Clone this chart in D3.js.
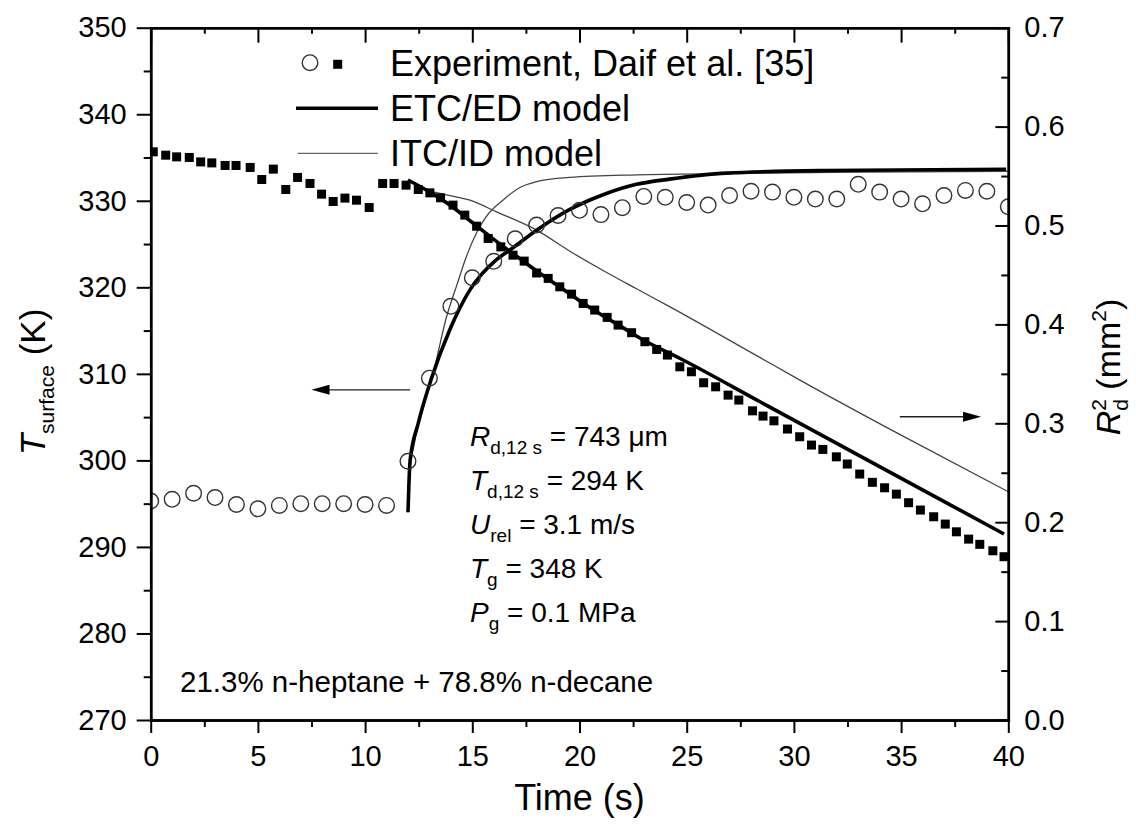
<!DOCTYPE html>
<html>
<head>
<meta charset="utf-8">
<script src="https://cdn.jsdelivr.net/npm/d3@7"></script>
<style>
  body { margin: 0; background: #fff; }
  text { font-family: "Liberation Sans", Arial, sans-serif; fill: #000; }
</style>
</head>
<body>
<div id="chart"></div>
<script>
// axis ticks
const timeTicks = [0, 5, 10, 15, 20, 25, 30, 35, 40];
const tempTicks = [270, 280, 290, 300, 310, 320, 330, 340, 350];
const r2Ticks = [0.0, 0.1, 0.2, 0.3, 0.4, 0.5, 0.6, 0.7];

// experiment, surface temperature (open circles, left axis)
const circleTime = [0, 1, 2, 3, 4, 5, 6, 7, 8, 9, 10, 11, 12, 13, 14, 15, 16, 17, 18, 19, 20,
  21, 22, 23, 24, 25, 26, 27, 28, 29, 30, 31, 32, 33, 34, 35, 36, 37, 38, 39, 40];
const circleTemp = [295.3, 295.5, 296.2, 295.7, 294.9, 294.4, 294.8, 295.0, 295.0, 295.0, 294.9,
  294.8, 299.9, 309.5, 317.8, 321.1, 323.0, 325.6, 327.2, 328.3, 328.9, 328.4, 329.2, 330.5,
  330.4, 329.8, 329.5, 330.6, 331.1, 331.0, 330.4, 330.2, 330.2, 331.9, 331.0, 330.2, 329.65,
  330.6, 331.2, 331.1, 329.3];

// experiment, squared radius (filled squares, right axis)
const squareTime = [0.12, 0.70, 1.21, 1.80, 2.33, 2.85, 3.47, 3.98, 4.64, 5.18, 5.72, 6.30, 6.85,
  7.43, 7.97, 8.51, 9.06, 9.60, 10.19, 10.82, 11.35, 11.91, 12.48, 13.02, 13.52, 14.10, 14.65,
  15.20, 15.74, 16.33, 16.90, 17.42, 18.00, 18.54, 19.08, 19.63, 20.17, 20.71, 21.29, 21.80,
  22.43, 23.05, 23.60, 24.10, 24.68, 25.22, 25.79, 26.35, 26.93, 27.43, 28.07, 28.56, 29.07,
  29.70, 30.27, 30.82, 31.35, 31.98, 32.49, 33.07, 33.66, 34.23, 34.78, 35.35, 35.90, 36.52,
  37.06, 37.58, 38.15, 38.67, 39.28, 39.80];
const squareR2 = [0.5745, 0.5711, 0.5694, 0.5688, 0.5643, 0.5633, 0.5607, 0.5607, 0.5587, 0.5465,
  0.557, 0.5364, 0.5486, 0.5425, 0.5317, 0.5243, 0.5277, 0.5256, 0.5182, 0.5425, 0.5425, 0.5408,
  0.5364, 0.533, 0.528, 0.5206, 0.5105, 0.4993, 0.4869, 0.4784, 0.470, 0.464, 0.452, 0.4465,
  0.438, 0.4306, 0.4212, 0.4145, 0.4071, 0.3993, 0.3916, 0.3825, 0.3747, 0.369, 0.3571, 0.3521,
  0.341, 0.3369, 0.3285, 0.3235, 0.3126, 0.3073, 0.3025, 0.2942, 0.2864, 0.278, 0.2736, 0.2661,
  0.2588, 0.2487, 0.2403, 0.2348, 0.2284, 0.2197, 0.2123, 0.2055, 0.1981, 0.1903, 0.1829,
  0.1776, 0.1711, 0.1651];

// ETC/ED model
const etcTempTime = [12, 12.04, 12.1, 12.48, 13.1, 13.95, 14.89, 16.13, 16.75, 18.0, 19.55, 21.1,
  22.66, 24.2, 26.85, 31.5, 39.9];
const etcTemp = [294, 297, 300, 304.3, 309.5, 315.1, 319.7, 323.2, 324.3, 326.6, 329.0, 330.7,
  331.9, 332.5, 333.2, 333.5, 333.65];
const etcR2Time = [12, 13, 14, 15, 16, 17, 18, 19, 20, 21, 22, 23, 24.83, 28.4, 32, 36, 39.8];
const etcR2 = [0.546, 0.534, 0.520, 0.503, 0.486, 0.470, 0.454, 0.439, 0.424, 0.410, 0.397,
  0.384, 0.364, 0.322, 0.2797, 0.2327, 0.1881];

// ITC/ID model
const itcTempTime = [12, 12.05, 12.3, 12.7, 13.15, 13.8, 14.27, 14.73, 15.2, 15.66, 16.44, 17.2,
  18.0, 19.55, 22.66, 27, 33, 40];
const itcTemp = [294, 298, 302, 306, 309.8, 316.6, 320.2, 323.6, 326.3, 328.2, 330.1, 331.5,
  332.2, 332.7, 333.0, 333.15, 333.3, 333.4];
const itcR2Time = [12, 12.5, 13.03, 13.8, 14.89, 16.13, 18.0, 19.55, 21.1, 22.66, 24.2, 28.41,
  30.28, 35, 40];
const itcR2 = [0.546, 0.540, 0.535, 0.531, 0.5256, 0.5138, 0.4953, 0.474, 0.4545, 0.436, 0.418,
  0.3666, 0.3437, 0.288, 0.2308];

const width = 1136, height = 827;
const plot = { left: 150.7, right: 1008.3, top: 27.7, bottom: 720 };

const svg = d3.select("#chart").append("svg")
  .attr("width", width).attr("height", height)
  .attr("viewBox", [0, 0, width, height]);

const x = d3.scaleLinear([0, 40], [plot.left, plot.right]);
const yT = d3.scaleLinear([270, 350], [plot.bottom, plot.top]);
const yR = d3.scaleLinear([0, 0.7], [plot.bottom, plot.top]);

const minorTime = d3.range(2.5, 40, 5);
const minorTemp = d3.range(275, 350, 10);
const minorR2 = d3.range(0.05, 0.7, 0.1);

svg.append("clipPath").attr("id", "clip")
  .append("rect")
  .attr("x", plot.left).attr("y", plot.top)
  .attr("width", plot.right - plot.left).attr("height", plot.bottom - plot.top);

const data = svg.append("g").attr("clip-path", "url(#clip)");

const lineT = (ts, vs) => d3.line().curve(d3.curveMonotoneX)
  .x((d, i) => x(ts[i])).y((d, i) => yT(vs[i]))(vs);
const lineR = (ts, vs) => d3.line().curve(d3.curveMonotoneX)
  .x((d, i) => x(ts[i])).y((d, i) => yR(vs[i]))(vs);

// model curves
data.append("path").attr("d", lineT(itcTempTime, itcTemp))
  .attr("fill", "none").attr("stroke", "#444").attr("stroke-width", 1.3);
data.append("path").attr("d", lineR(itcR2Time, itcR2))
  .attr("fill", "none").attr("stroke", "#444").attr("stroke-width", 1.3);
data.append("path").attr("d", lineT(etcTempTime, etcTemp))
  .attr("fill", "none").attr("stroke", "#000").attr("stroke-width", 3.6);
data.append("path").attr("d", lineR(etcR2Time, etcR2))
  .attr("fill", "none").attr("stroke", "#000").attr("stroke-width", 3.6);

// experiment points
data.selectAll("rect.sq")
  .data(squareTime)
  .join("rect")
  .attr("class", "sq")
  .attr("x", (d, i) => x(d) - 4.5)
  .attr("y", (d, i) => yR(squareR2[i]) - 4.5)
  .attr("width", 9).attr("height", 9)
  .attr("fill", "#000");

data.selectAll("circle.exp")
  .data(circleTime)
  .join("circle")
  .attr("class", "exp")
  .attr("cx", d => x(d))
  .attr("cy", (d, i) => yT(circleTemp[i]))
  .attr("r", 7.8)
  .attr("fill", "none").attr("stroke", "#333").attr("stroke-width", 1.4);

// axes
function styleAxis(g) {
  g.select(".domain").attr("stroke-width", 2.5).attr("stroke-linecap", "square");
  g.selectAll(".tick line").attr("stroke-width", 2);
  g.selectAll(".tick text").attr("font-size", 29)
    .attr("font-family", '"Liberation Sans", Arial, sans-serif');
}

svg.append("g").attr("transform", `translate(0,${plot.bottom})`)
  .call(d3.axisBottom(x).tickValues(timeTicks).tickSizeInner(13).tickSizeOuter(0).tickPadding(12))
  .call(styleAxis);
svg.append("g").attr("transform", `translate(0,${plot.bottom})`)
  .call(d3.axisBottom(x).tickValues(minorTime).tickSizeInner(7).tickSizeOuter(0).tickFormat(""))
  .call(styleAxis);
svg.append("g").attr("transform", `translate(0,${plot.top})`)
  .call(d3.axisTop(x).tickValues(timeTicks).tickSizeInner(-15).tickSizeOuter(0).tickFormat(""))
  .call(styleAxis);
svg.append("g").attr("transform", `translate(0,${plot.top})`)
  .call(d3.axisTop(x).tickValues(minorTime).tickSizeInner(-6).tickSizeOuter(0).tickFormat(""))
  .call(styleAxis);
svg.append("g").attr("transform", `translate(${plot.left},0)`)
  .call(d3.axisLeft(yT).tickValues(tempTicks).tickSizeInner(14).tickSizeOuter(0).tickPadding(10))
  .call(styleAxis);
svg.append("g").attr("transform", `translate(${plot.left},0)`)
  .call(d3.axisLeft(yT).tickValues(minorTemp).tickSizeInner(7).tickSizeOuter(0).tickFormat(""))
  .call(styleAxis);
svg.append("g").attr("transform", `translate(${plot.right},0)`)
  .call(d3.axisRight(yR).tickValues(r2Ticks).tickSizeInner(-13).tickSizeOuter(0).tickPadding(16)
    .tickFormat(d3.format(".1f")))
  .call(styleAxis);
svg.append("g").attr("transform", `translate(${plot.right},0)`)
  .call(d3.axisRight(yR).tickValues(minorR2).tickSizeInner(-7).tickSizeOuter(0).tickFormat(""))
  .call(styleAxis);

// axis titles
svg.append("text")
  .attr("x", (plot.left + plot.right) / 2).attr("y", 810)
  .attr("text-anchor", "middle").attr("font-size", 36)
  .text("Time (s)");

const leftTitle = svg.append("text")
  .attr("transform", "translate(45,382) rotate(-90)")
  .attr("text-anchor", "middle").attr("font-size", 35);
leftTitle.append("tspan").attr("font-style", "italic").text("T");
leftTitle.append("tspan").attr("font-size", 21).attr("dy", 9).text("surface");
leftTitle.append("tspan").attr("dy", -9).text(" (K)");

const rightTitle = svg.append("text")
  .attr("transform", "translate(1120,367) rotate(-90)")
  .attr("text-anchor", "middle").attr("font-size", 34);
rightTitle.append("tspan").attr("font-style", "italic").text("R");
rightTitle.append("tspan").attr("font-size", 21).attr("dy", -14).text("2");
rightTitle.append("tspan").attr("font-size", 21).attr("dx", -11.7).attr("dy", 22).text("d");
rightTitle.append("tspan").attr("dy", -8).text(" (mm");
rightTitle.append("tspan").attr("font-size", 21).attr("dy", -14).text("2");
rightTitle.append("tspan").attr("dy", 14).text(")");

// legend
const legend = svg.append("g");
legend.append("circle").attr("cx", 310).attr("cy", 62.7).attr("r", 7.8)
  .attr("fill", "none").attr("stroke", "#333").attr("stroke-width", 1.4);
legend.append("rect").attr("x", 333.2).attr("y", 59.8).attr("width", 9).attr("height", 9)
  .attr("fill", "#000");
legend.append("text").attr("x", 390).attr("y", 76).attr("font-size", 36)
  .text("Experiment, Daif et al. [35]");
legend.append("line").attr("x1", 296).attr("x2", 378).attr("y1", 108.3).attr("y2", 108.3)
  .attr("stroke", "#000").attr("stroke-width", 3.6);
legend.append("text").attr("x", 390).attr("y", 120.5).attr("font-size", 36)
  .text("ETC/ED model");
legend.append("line").attr("x1", 297.7).attr("x2", 378).attr("y1", 153.3).attr("y2", 153.3)
  .attr("stroke", "#666").attr("stroke-width", 1.3);
legend.append("text").attr("x", 390).attr("y", 165.5).attr("font-size", 36)
  .text("ITC/ID model");

// arrows pointing to the relevant axis
function arrow(t0, t1, yPix) {
  const xa = x(t0), xb = x(t1), dir = Math.sign(xb - xa);
  svg.append("line").attr("x1", xa).attr("x2", xb - dir * 14).attr("y1", yPix).attr("y2", yPix)
    .attr("stroke", "#222").attr("stroke-width", 1.3);
  svg.append("path")
    .attr("d", `M${xb},${yPix} L${xb - dir * 18},${yPix - 5} L${xb - dir * 18},${yPix + 5} Z`)
    .attr("fill", "#000");
}
arrow(12.1, 7.5, yT(308.15));
arrow(34.94, 38.73, yR(0.3066));

// conditions
const info = [
  { main: "R", sub: "d,12 s", rest: " = 743 \u03bcm" },
  { main: "T", sub: "d,12 s", rest: " = 294 K" },
  { main: "U", sub: "rel", rest: " = 3.1 m/s" },
  { main: "T", sub: "g", rest: " = 348 K" },
  { main: "P", sub: "g", rest: " = 0.1 MPa" }
];
info.forEach((d, i) => {
  const t = svg.append("text").attr("x", 470).attr("y", 446 + i * 44).attr("font-size", 28);
  t.append("tspan").attr("font-style", "italic").text(d.main);
  t.append("tspan").attr("font-size", 19).attr("dy", 8).text(d.sub);
  t.append("tspan").attr("dy", -8).text(d.rest);
});

svg.append("text").attr("x", 180).attr("y", 692).attr("font-size", 29.5)
  .text("21.3% n-heptane + 78.8% n-decane");
</script>
</body>
</html>
